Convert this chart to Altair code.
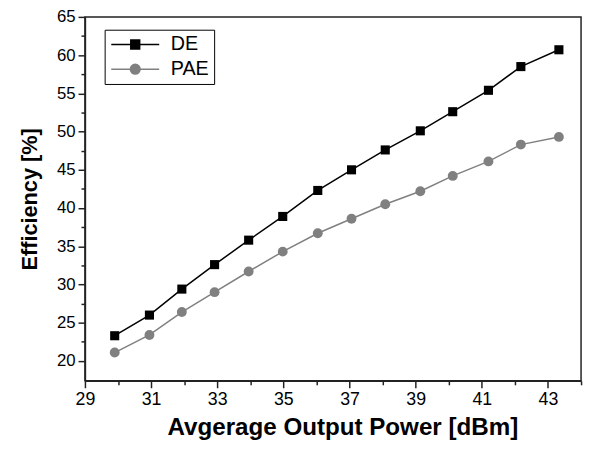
import altair as alt
import pandas as pd

# ---- data ----
x_power = [29.9, 30.95, 31.93, 32.92, 33.95, 34.98, 36.04, 37.06, 38.08, 39.14, 40.12, 41.2, 42.18, 43.33]
de_vals = [23.3, 26.0, 29.4, 32.6, 35.8, 38.9, 42.3, 45.0, 47.6, 50.1, 52.6, 55.4, 58.5, 60.7]
pae_vals = [21.1, 23.4, 26.4, 29.0, 31.7, 34.3, 36.7, 38.6, 40.5, 42.2, 44.2, 46.1, 48.3, 49.3]
series_names = ["DE", "PAE"]
series_colors = ["#000000", "#808080"]
legend_shapes = [
    "M-2.7,0H-0.5M0.5,0H2.7M-0.5,-0.5H0.5V0.5H-0.5Z",
    "M-2.7,0H-0.55M0.55,0H2.7M0.55,0A0.55,0.55 0 1,1 -0.55,0A0.55,0.55 0 1,1 0.55,0Z",
]
x_major = [29, 31, 33, 35, 37, 39, 41, 43]
x_minor = [30, 32, 34, 36, 38, 40, 42, 44]
y_major = [20, 25, 30, 35, 40, 45, 50, 55, 60, 65]
y_minor = [22.5, 27.5, 32.5, 37.5, 42.5, 47.5, 52.5, 57.5, 62.5]
x_domain = [29, 44]
y_domain = [17.4, 65]

rows = []
for xv, v in zip(x_power, de_vals):
    rows.append({"power": xv, "eff": v, "series": "DE"})
for xv, v in zip(x_power, pae_vals):
    rows.append({"power": xv, "eff": v, "series": "PAE"})
df = pd.DataFrame(rows)

FONT = "Liberation Sans"
AX = "#222222"
NBSP2 = "\u00a0\u00a0"

xscale = alt.Scale(domain=x_domain, nice=False, zero=False)
yscale = alt.Scale(domain=y_domain, nice=False, zero=False)

x_major_axis = alt.Axis(
    values=x_major, title="Avgerage Output Power [dBm]", grid=False,
    tickSize=7, tickWidth=1.5, tickColor=AX, domainColor=AX, domainWidth=1.5,
    labelFont=FONT, labelFontSize=18, labelColor="#000", labelPadding=3,
    titleFont=FONT, titleFontSize=24.5, titleFontWeight="bold", titleColor="#000",
    titlePadding=7, titleX=261, orient="bottom", labelFlush=False,
)
y_major_axis = alt.Axis(
    values=y_major, title="Efficiency [%]", grid=False,
    tickSize=7, tickWidth=1.5, tickColor=AX, domainColor=AX, domainWidth=1.5,
    labelFont=FONT, labelFontSize=17, labelColor="#000", labelPadding=3,
    titleFont=FONT, titleFontSize=22, titleFontWeight="bold", titleColor="#000",
    titlePadding=15, orient="left", labelFlush=False,
)
x_minor_axis = alt.Axis(values=x_minor, labels=False, title=None, grid=False, domain=False,
                        tickSize=4, tickWidth=1.5, tickColor=AX, orient="bottom")
y_minor_axis = alt.Axis(values=y_minor, labels=False, title=None, grid=False, domain=False,
                        tickSize=4, tickWidth=1.5, tickColor=AX, orient="left")

# data-driven domain (not explicit) so this hidden-legend scale does not merge with the legend below
color_scale = alt.Scale(range=series_colors)

lines = alt.Chart(df).mark_line(strokeWidth=1.5).encode(
    x=alt.X("power:Q", scale=xscale, axis=x_major_axis),
    y=alt.Y("eff:Q", scale=yscale, axis=y_major_axis),
    color=alt.Color("series:N", scale=color_scale, legend=None),
    detail="series:N",
)

de_points = alt.Chart(df).transform_filter(alt.datum.series == "DE").mark_point(
    filled=True, opacity=1, size=85, shape="square"
).encode(
    x=alt.X("power:Q", scale=xscale, axis=x_minor_axis),
    y=alt.Y("eff:Q", scale=yscale, axis=y_minor_axis),
    color=alt.Color("series:N", scale=color_scale, legend=None),
)
pae_points = alt.Chart(df).transform_filter(alt.datum.series == "PAE").mark_point(
    filled=True, opacity=1, size=100, shape="circle"
).encode(
    x=alt.X("power:Q", scale=xscale, axis=None),
    y=alt.Y("eff:Q", scale=yscale, axis=None),
    color=alt.Color("series:N", scale=color_scale, legend=None),
)

label_expr = "datum.label + '" + NBSP2 + "'"
legend_layer = alt.Chart(df).transform_filter("false").mark_point(
    filled=True, opacity=1, size=324, strokeWidth=1.5
).encode(
    shape=alt.Shape("series:N", scale=alt.Scale(domain=series_names, range=legend_shapes),
                    legend=alt.Legend(title=None, labelExpr=label_expr)),
    fill=alt.Fill("series:N", scale=alt.Scale(domain=series_names, range=series_colors),
                  legend=alt.Legend(title=None, labelExpr=label_expr)),
    stroke=alt.Stroke("series:N", scale=alt.Scale(domain=series_names, range=series_colors),
                      legend=alt.Legend(title=None, labelExpr=label_expr)),
)

chart = alt.layer(lines, de_points, pae_points, legend_layer).resolve_axis(
    x="independent", y="independent"
).properties(
    width=503, height=369,
    autosize=alt.AutoSizeParams(type="none"),
    padding={"left": 78, "top": 6, "right": 4, "bottom": 60},
).configure_view(
    stroke=AX, strokeWidth=1.5,
).configure_legend(
    orient="none", legendX=20, legendY=13,
    strokeColor="#000", fillColor="#fff", padding=5,
    labelFont=FONT, labelFontSize=20, labelColor="#000",
    symbolStrokeWidth=1.5, symbolOffset=16, labelOffset=26, rowPadding=5,
    symbolSize=324, symbolOpacity=1,
)

chart.save("out.html", embed_options={"renderer": "svg", "actions": False})
